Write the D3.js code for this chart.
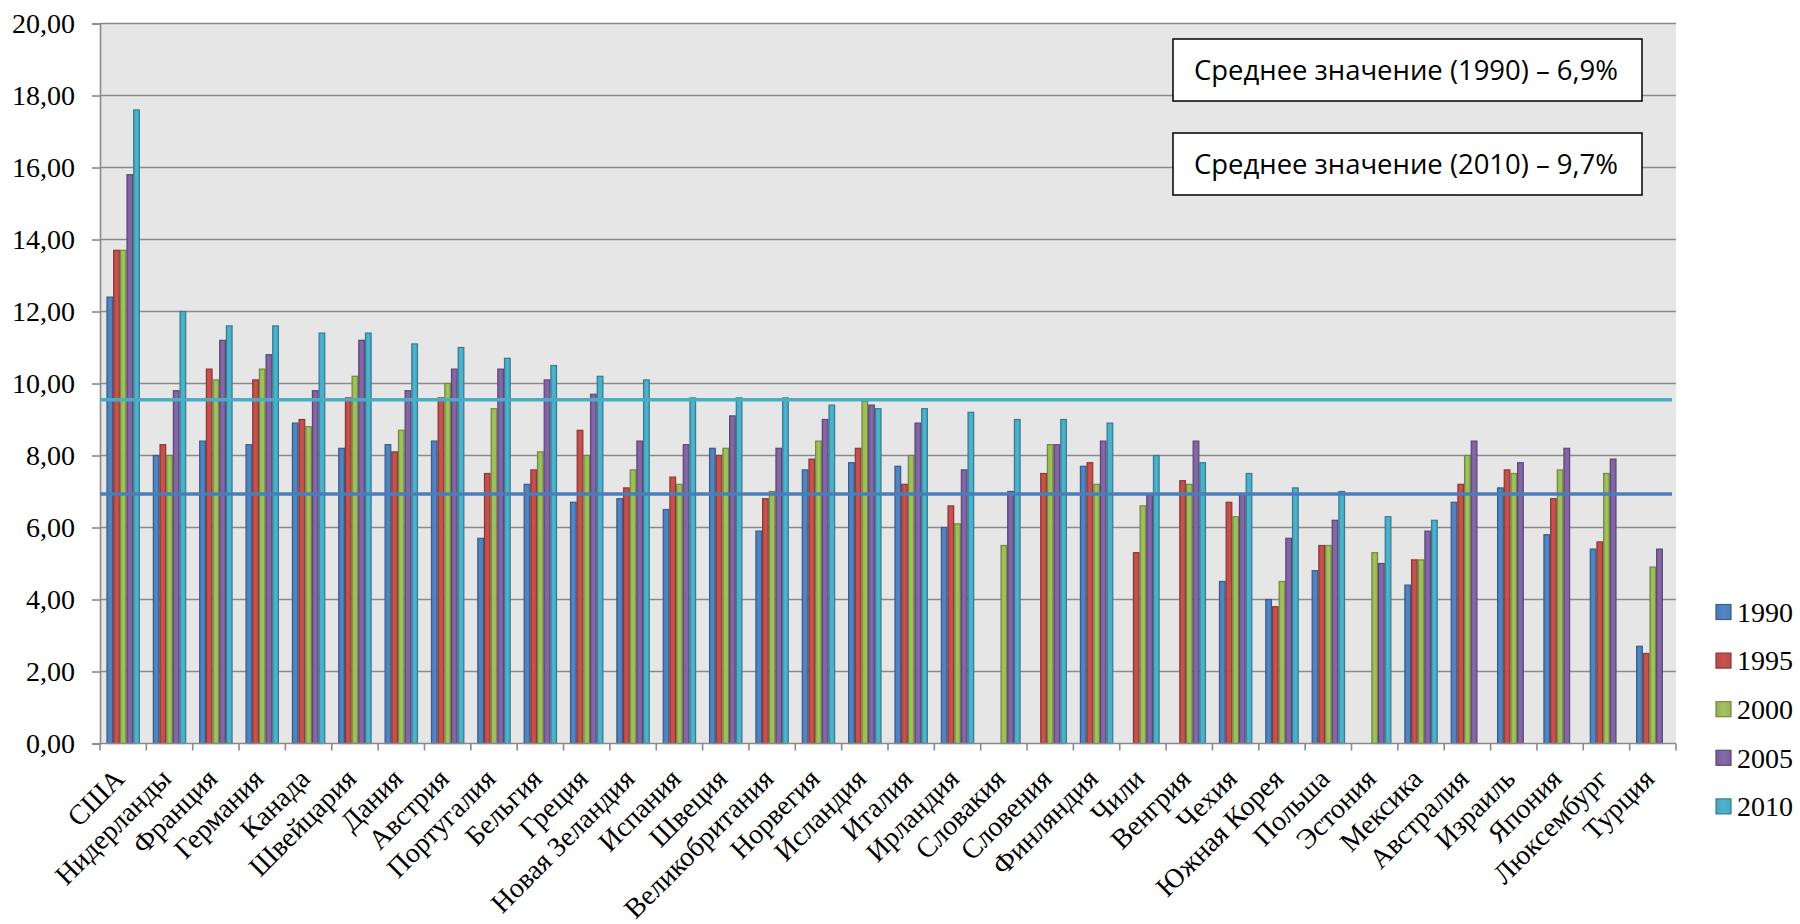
<!DOCTYPE html>
<html>
<head>
<meta charset="utf-8">
<script src="https://cdn.jsdelivr.net/npm/d3@7"></script>
<style>
  html, body { margin: 0; padding: 0; background: #ffffff; }
  svg { display: block; }
</style>
</head>
<body>
<svg id="chart" width="1800" height="924"></svg>
<script>
// ---- Data ----
const countries = ["США","Нидерланды","Франция","Германия","Канада","Швейцария","Дания","Австрия","Португалия","Бельгия","Греция","Новая Зеландия","Испания","Швеция","Великобритания","Норвегия","Исландия","Италия","Ирландия","Словакия","Словения","Финляндия","Чили","Венгрия","Чехия","Южная Корея","Польша","Эстония","Мексика","Австралия","Израиль","Япония","Люксембург","Турция"];
const seriesNames = ["1990","1995","2000","2005","2010"];
const v1990 = [12.4,8.0,8.4,8.3,8.9,8.2,8.3,8.4,5.7,7.2,6.7,6.8,6.5,8.2,5.9,7.6,7.8,7.7,6.0,null,null,7.7,null,null,4.5,4.0,4.8,null,4.4,6.7,7.1,5.8,5.4,2.7];
const v1995 = [13.7,8.3,10.4,10.1,9.0,9.6,8.1,9.6,7.5,7.6,8.7,7.1,7.4,8.0,6.8,7.9,8.2,7.2,6.6,null,7.5,7.8,5.3,7.3,6.7,3.8,5.5,null,5.1,7.2,7.6,6.8,5.6,2.5];
const v2000 = [13.7,8.0,10.1,10.4,8.8,10.2,8.7,10.0,9.3,8.1,8.0,7.6,7.2,8.2,7.0,8.4,9.5,8.0,6.1,5.5,8.3,7.2,6.6,7.2,6.3,4.5,5.5,5.3,5.1,8.0,7.5,7.6,7.5,4.9];
const v2005 = [15.8,9.8,11.2,10.8,9.8,11.2,9.8,10.4,10.4,10.1,9.7,8.4,8.3,9.1,8.2,9.0,9.4,8.9,7.6,7.0,8.3,8.4,6.9,8.4,6.9,5.7,6.2,5.0,5.9,8.4,7.8,8.2,7.9,5.4];
const v2010 = [17.6,12.0,11.6,11.6,11.4,11.4,11.1,11.0,10.7,10.5,10.2,10.1,9.6,9.6,9.6,9.4,9.3,9.3,9.2,9.0,9.0,8.9,8.0,7.8,7.5,7.1,7.0,6.3,6.2,null,null,null,null,null];
const yTicks = [0,2,4,6,8,10,12,14,16,18,20];
const avgNames = ["Среднее значение (1990) – 6,9%","Среднее значение (2010) – 9,7%"];
const avgLineValues = [6.93, 9.55];
</script>
<script>
const seriesValues = [v1990, v1995, v2000, v2005, v2010];
const colors = ["#4F81BD","#C0504D","#9BBB59","#8064A2","#4BACC6"];
const strokes = ["#385D8A","#8C3836","#71893F","#5C4776","#357D91"];

const svg = d3.select("#chart");
const L = 100, R = 1676, T = 23.5, B = 743.5;

const x0 = d3.scaleBand().domain(countries).range([L, R]).padding(0);
const cw = x0.bandwidth();
const gap = cw * 0.28;
const x1 = d3.scaleBand().domain(seriesNames).range([gap/2, cw - gap/2]).padding(0);
const y = d3.scaleLinear().domain([0, 20]).range([B, T]);

// plot background
svg.append("rect").attr("x", L).attr("y", T).attr("width", R - L).attr("height", B - T)
  .attr("fill", "#E6E6E6");

// gridlines
svg.append("g").selectAll("line").data(yTicks.filter(d => d > 0)).join("line")
  .attr("x1", L).attr("x2", R).attr("y1", d => y(d)).attr("y2", d => y(d))
  .attr("stroke", "#8A8A8A").attr("stroke-width", 1.6);

// gradients
const defs = svg.append("defs");
colors.forEach((c, i) => {
  const g = defs.append("linearGradient").attr("id", "g" + i).attr("x1", "0").attr("x2", "1").attr("y1", "0").attr("y2", "0");
  g.append("stop").attr("offset", "0").attr("stop-color", d3.color(c).darker(0.15));
  g.append("stop").attr("offset", "0.5").attr("stop-color", d3.color(c).brighter(0.12));
  g.append("stop").attr("offset", "1").attr("stop-color", d3.color(c).darker(0.1));
});

// bars
const groups = svg.append("g").selectAll("g").data(countries).join("g")
  .attr("transform", d => `translate(${x0(d)},0)`);
groups.selectAll("rect").data((d, ci) => seriesNames.map((s, si) => ({s, si, v: seriesValues[si][ci]})).filter(e => e.v != null))
  .join("rect")
  .attr("x", e => x1(e.s) + 0.5)
  .attr("width", x1.bandwidth() - 1)
  .attr("y", e => y(e.v))
  .attr("height", e => B - y(e.v))
  .attr("fill", e => `url(#g${e.si})`)
  .attr("stroke", e => strokes[e.si])
  .attr("stroke-width", 1.2);

// axes
const yAxis = d3.axisLeft(y).tickValues(yTicks).tickSize(8).tickPadding(17)
  .tickFormat(d => d3.format(".2f")(d).replace(".", ","));
const yg = svg.append("g").attr("transform", `translate(${L},0)`).call(yAxis)
  .attr("font-family", null).attr("font-size", null);
yg.select(".domain").attr("stroke", "#8A8A8A").attr("stroke-width", 1.6);
yg.selectAll(".tick line").attr("stroke", "#8A8A8A").attr("stroke-width", 1.6);
yg.selectAll(".tick text")
  .style("font-family", "'Liberation Serif', serif").style("font-size", "28px").attr("fill", "#000");

// x axis line + ticks between categories
svg.append("line").attr("x1", L).attr("x2", R).attr("y1", B).attr("y2", B)
  .attr("stroke", "#8A8A8A").attr("stroke-width", 1.6);
svg.append("g").selectAll("line").data(countries.concat(["__end"])).join("line")
  .attr("x1", (d, i) => L + i * cw).attr("x2", (d, i) => L + i * cw)
  .attr("y1", B).attr("y2", B + 7)
  .attr("stroke", "#8A8A8A").attr("stroke-width", 1.6);

// x labels (upright serif, rotated -45deg)
svg.append("g").selectAll("text").data(countries).join("text")
  .attr("transform", d => `translate(${x0(d) + cw/2 + 3},${B + 37}) rotate(-45)`)
  .attr("text-anchor", "end")
  .style("font-family", "'Liberation Serif', serif")
  .style("font-size", "28px").attr("fill", "#000")
  .text(d => d);

// average lines
const lineColors = ["#4A7EBB", "#4BACC6"];
svg.append("g").selectAll("line").data(avgLineValues).join("line")
  .attr("x1", L).attr("x2", R - 4).attr("y1", d => y(d)).attr("y2", d => y(d))
  .attr("stroke", (d, i) => lineColors[i]).attr("stroke-width", 3.5);

// annotation boxes
const boxes = svg.append("g").selectAll("g").data(avgNames).join("g");
boxes.append("rect").attr("x", 1173).attr("y", (d, i) => i === 0 ? 39 : 133)
  .attr("width", 469).attr("height", 62)
  .attr("fill", "#fff").attr("stroke", "#000").attr("stroke-width", 1.5);
boxes.append("text").attr("x", 1406).attr("y", (d, i) => (i === 0 ? 39 : 133) + 31)
  .attr("dy", "0.36em").attr("text-anchor", "middle")
  .style("font-family", "'Open Sans', sans-serif").style("font-size", "28px")
  .attr("textLength", 424).attr("lengthAdjust", "spacingAndGlyphs")
  .attr("fill", "#000").text(d => d);

// legend
const legend = svg.append("g").selectAll("g").data(seriesNames).join("g")
  .attr("transform", (d, i) => `translate(1716,${612 + i * 48.6})`);
legend.append("rect").attr("x", 0).attr("y", -7.5).attr("width", 15).attr("height", 15)
  .attr("fill", (d, i) => `url(#g${i})`).attr("stroke", (d, i) => strokes[i]).attr("stroke-width", 1.2);
legend.append("text").attr("x", 21).attr("y", 0).attr("dy", "0.35em")
  .style("font-family", "'Liberation Serif', serif").style("font-size", "28px").attr("fill", "#000")
  .text(d => d);
</script>
</body>
</html>
